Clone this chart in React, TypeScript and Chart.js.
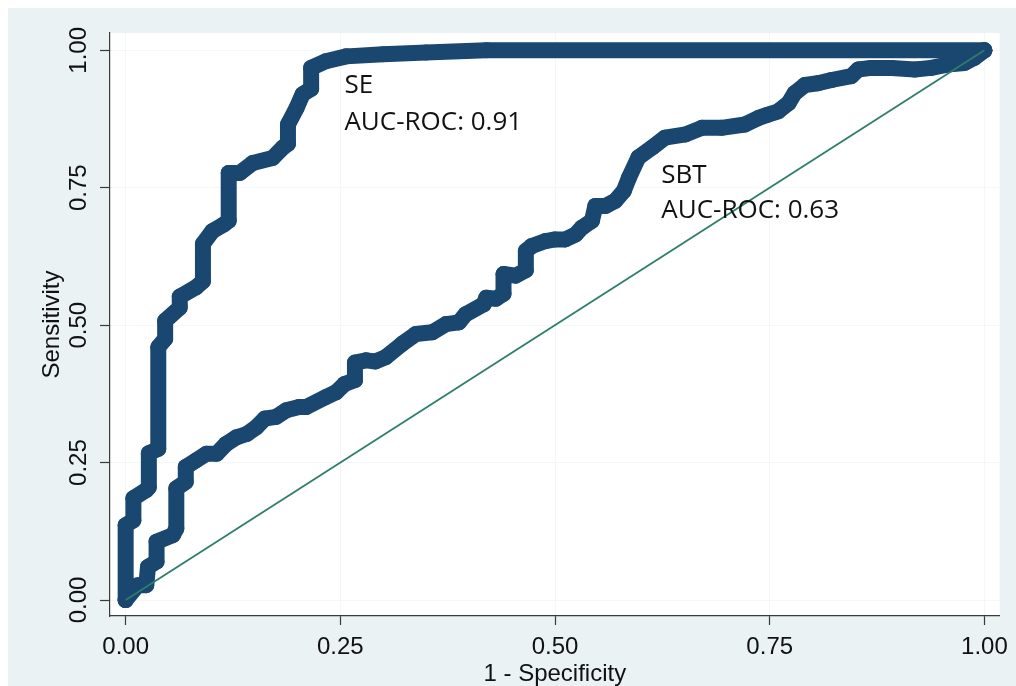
import React, { useEffect, useRef } from "react";
import { Chart, registerables } from "chart.js";

Chart.register(...registerables);

// ---- Data ----
const tickValues = [0, 0.25, 0.5, 0.75, 1];

const seX = [0, 0, 0.009, 0.009, 0.024, 0.027, 0.027, 0.038, 0.038, 0.046, 0.046, 0.063, 0.063, 0.082, 0.09, 0.09, 0.101, 0.115, 0.12, 0.12, 0.133, 0.148, 0.171, 0.183, 0.189, 0.189, 0.199, 0.206, 0.216, 0.216, 0.233, 0.257, 0.3, 0.35, 0.42, 1];
const seY = [0, 0.136, 0.145, 0.185, 0.2, 0.205, 0.267, 0.275, 0.46, 0.475, 0.508, 0.532, 0.552, 0.569, 0.58, 0.648, 0.671, 0.684, 0.69, 0.777, 0.777, 0.795, 0.804, 0.823, 0.83, 0.865, 0.895, 0.92, 0.93, 0.968, 0.98, 0.989, 0.993, 0.996, 1, 1];

const sbtX = [0, 0.014, 0.024, 0.026, 0.036, 0.036, 0.055, 0.059, 0.059, 0.07, 0.07, 0.082, 0.094, 0.106, 0.117, 0.129, 0.141, 0.152, 0.162, 0.175, 0.187, 0.202, 0.21, 0.233, 0.245, 0.255, 0.267, 0.267, 0.28, 0.291, 0.303, 0.322, 0.338, 0.357, 0.373, 0.388, 0.396, 0.417, 0.42, 0.431, 0.44, 0.44, 0.454, 0.466, 0.466, 0.473, 0.489, 0.5, 0.512, 0.524, 0.531, 0.543, 0.547, 0.559, 0.57, 0.58, 0.586, 0.597, 0.613, 0.628, 0.652, 0.671, 0.694, 0.721, 0.737, 0.748, 0.76, 0.772, 0.779, 0.791, 0.806, 0.822, 0.845, 0.853, 0.868, 0.892, 0.919, 0.938, 0.957, 0.977, 0.988, 1];
const sbtY = [0, 0.027, 0.027, 0.06, 0.07, 0.106, 0.118, 0.13, 0.203, 0.215, 0.242, 0.254, 0.266, 0.266, 0.284, 0.296, 0.302, 0.314, 0.33, 0.333, 0.345, 0.351, 0.351, 0.369, 0.378, 0.393, 0.4, 0.432, 0.436, 0.434, 0.442, 0.466, 0.484, 0.487, 0.502, 0.505, 0.52, 0.538, 0.55, 0.548, 0.557, 0.593, 0.59, 0.6, 0.635, 0.644, 0.653, 0.656, 0.656, 0.665, 0.677, 0.69, 0.717, 0.717, 0.726, 0.744, 0.768, 0.805, 0.823, 0.841, 0.847, 0.859, 0.859, 0.865, 0.877, 0.883, 0.889, 0.904, 0.922, 0.937, 0.94, 0.946, 0.953, 0.965, 0.968, 0.968, 0.965, 0.968, 0.974, 0.977, 0.986, 1];

const refX = [0, 1];
const refY = [0, 1];

const annotations = [
  { lines: ["SE", "AUC-ROC: 0.91"], x: 0.2547, y: [0.922, 0.855] },
  { lines: ["SBT", "AUC-ROC: 0.63"], x: 0.6237, y: [0.7586, 0.695] },
];

// ---- Styles ----
const NAVY = "#1A476F";
const GREEN = "#2E7D6C";
const OUTER_BG = "#EAF2F3";
const GRID = "#F3F7F8";
const AXIS = "#3A3A3A";
const TEXT = "#111111";
const SANS = "'Liberation Sans', Arial, sans-serif";

const toPts = (xs: number[], ys: number[]) => xs.map((x, i) => ({ x, y: ys[i] }));

const bgPlugin = {
  id: "bgPlugin",
  beforeDraw(chart: any) {
    const { ctx, chartArea } = chart;
    ctx.save();
    ctx.fillStyle = OUTER_BG;
    ctx.fillRect(0, 0, chart.width, chart.height);
    ctx.fillStyle = "#FFFFFF";
    ctx.fillRect(chartArea.left, chartArea.top, chartArea.right - chartArea.left, chartArea.bottom - chartArea.top);
    ctx.restore();
  },
};

const annotationPlugin = {
  id: "annotationPlugin",
  afterDatasetsDraw(chart: any) {
    const { ctx } = chart;
    const xs = chart.scales.x;
    const ys = chart.scales.y;
    ctx.save();
    ctx.fillStyle = TEXT;
    ctx.font = "26px 'Open Sans', sans-serif";
    ctx.textAlign = "left";
    ctx.textBaseline = "alphabetic";
    annotations.forEach((a) => {
      a.lines.forEach((line, i) => {
        ctx.fillText(line, xs.getPixelForValue(a.x), ys.getPixelForValue(a.y[i]));
      });
    });
    ctx.restore();
  },
};

const curveStyle = {
  showLine: true,
  borderColor: NAVY,
  backgroundColor: NAVY,
  borderWidth: 16,
  borderJoinStyle: "round",
  borderCapStyle: "round",
  pointRadius: 8,
  pointBorderWidth: 0,
};

export default function App() {
  const ref = useRef<HTMLCanvasElement | null>(null);

  useEffect(() => {
    if (!ref.current) return;
    const chart = new Chart(ref.current, {
      type: "scatter",
      data: {
        datasets: [
          {
            label: "Reference",
            data: toPts(refX, refY),
            showLine: true,
            borderColor: GREEN,
            borderWidth: 1.8,
            pointRadius: 0,
          },
          { label: "SE", data: toPts(seX, seY), ...curveStyle },
          { label: "SBT", data: toPts(sbtX, sbtY), ...curveStyle },
        ],
      } as any,
      options: {
        responsive: false,
        animation: false,
        devicePixelRatio: 1,
        events: [],
        layout: { padding: { top: 25, right: 14, left: 0, bottom: 0 } },
        plugins: { legend: { display: false }, tooltip: { enabled: false } },
        scales: {
          x: {
            type: "linear",
            min: -0.01823,
            max: 1.01777,
            afterFit: (s: any) => {
              s.height = 70;
            },
            afterBuildTicks: (a: any) => {
              a.ticks = tickValues.map((v) => ({ value: v }));
            },
            grid: { color: GRID, lineWidth: 1, tickColor: AXIS, tickLength: 9, tickWidth: 1.2 },
            border: { color: AXIS, width: 1.2 },
            ticks: {
              font: { family: SANS, size: 24 },
              color: TEXT,
              padding: 8,
              maxRotation: 0,
              autoSkip: false,
              callback: (v: any) => Number(v).toFixed(2),
            },
            title: {
              display: true,
              text: "1 - Specificity",
              color: TEXT,
              font: { family: SANS, size: 24, lineHeight: 1 },
              padding: { top: 0, bottom: 0 },
            },
          },
          y: {
            type: "linear",
            min: -0.0291,
            max: 1.0315,
            afterFit: (s: any) => {
              s.width = 102;
            },
            afterBuildTicks: (a: any) => {
              a.ticks = tickValues.map((v) => ({ value: v }));
            },
            grid: { color: GRID, lineWidth: 1, tickColor: AXIS, tickLength: 10, tickWidth: 1.2 },
            border: { color: AXIS, width: 1.2 },
            ticks: {
              font: { family: SANS, size: 24 },
              color: TEXT,
              padding: -3,
              minRotation: 90,
              maxRotation: 90,
              crossAlign: "center",
              autoSkip: false,
              callback: (v: any) => Number(v).toFixed(2),
            },
            title: {
              display: true,
              text: "Sensitivity",
              color: TEXT,
              font: { family: SANS, size: 24, lineHeight: 1 },
              padding: { top: 32, bottom: 0 },
            },
          },
        },
      } as any,
      plugins: [bgPlugin, annotationPlugin],
    });
    return () => chart.destroy();
  }, []);

  return (
    <canvas
      ref={ref}
      width={1008}
      height={678}
      style={{ position: "fixed", left: 8, top: 8, width: 1008, height: 678, display: "block" }}
    />
  );
}
